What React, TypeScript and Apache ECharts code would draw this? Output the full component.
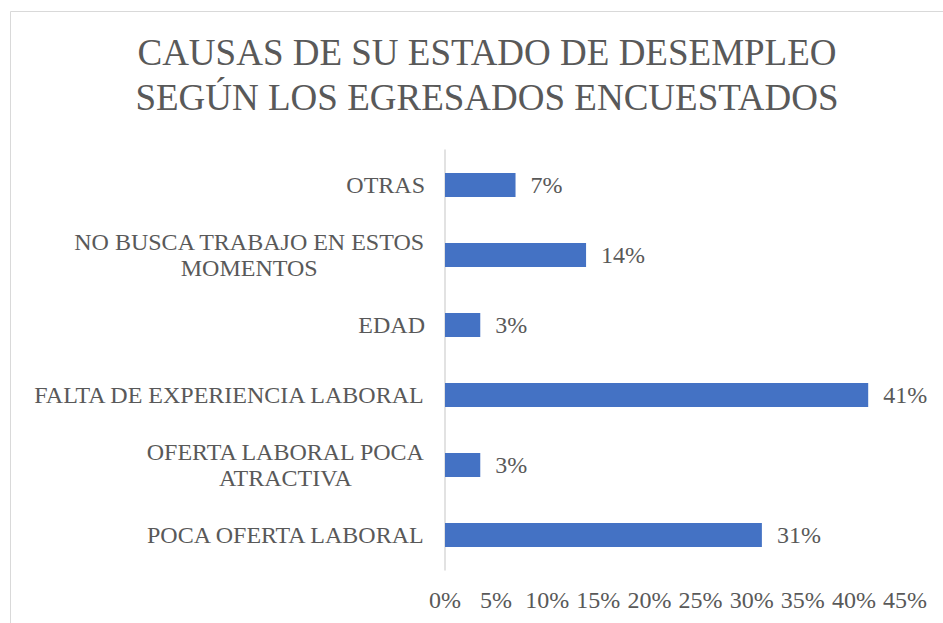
import React, { useEffect, useRef } from "react";
import * as echarts from "echarts";

const titleLines = ["CAUSAS DE SU ESTADO DE DESEMPLEO", "SEGÚN LOS EGRESADOS ENCUESTADOS"];
const categories = [
  "OTRAS",
  "NO BUSCA TRABAJO EN ESTOS\nMOMENTOS",
  "EDAD",
  "FALTA DE EXPERIENCIA LABORAL",
  "OFERTA LABORAL POCA\nATRACTIVA",
  "POCA OFERTA LABORAL",
];
const values = [6.9, 13.8, 3.45, 41.4, 3.45, 31.0];
const valueLabels = ["7%", "14%", "3%", "41%", "3%", "31%"];
const xTicks = [0, 5, 10, 15, 20, 25, 30, 35, 40, 45];

const FONT = "Liberation Serif";
const TEXT = "#595959";

export default function App() {
  const ref = useRef<HTMLDivElement>(null);
  useEffect(() => {
    if (!ref.current) return;
    const chart = echarts.init(ref.current, undefined, { renderer: "svg" });
    chart.setOption({
      animation: false,
      backgroundColor: "#ffffff",
      textStyle: { fontFamily: FONT },
      title: {
        text: titleLines.join("\n"),
        left: 482,
        top: 25,
        textAlign: "center",
        textStyle: {
          fontFamily: FONT,
          fontSize: 37,
          fontWeight: "normal",
          color: TEXT,
          lineHeight: 45,
        },
      },
      graphic: [
        {
          type: "rect",
          shape: { x: 10.5, y: 11.5, width: 1000, height: 1000 },
          style: { fill: "none", stroke: "#D9D9D9", lineWidth: 1 },
          silent: true,
        },
      ],
      grid: { left: 445, right: 38, top: 150, bottom: 53, containLabel: false },
      xAxis: {
        type: "value",
        min: xTicks[0],
        max: xTicks[xTicks.length - 1],
        interval: 5,
        axisLine: { show: false },
        axisTick: { show: false },
        splitLine: { show: false },
        axisLabel: {
          formatter: "{value}%",
          color: TEXT,
          fontFamily: FONT,
          fontSize: 24,
          margin: 18,
        },
      },
      yAxis: {
        type: "category",
        inverse: true,
        data: categories,
        axisLine: { show: true, lineStyle: { color: "#D9D9D9", width: 1.5 } },
        axisTick: { show: false },
        axisLabel: {
          margin: 20,
          align: "right",
          color: TEXT,
          fontFamily: FONT,
          fontSize: 24,
          lineHeight: 26,
          formatter: (v: string) =>
            v
              .split("\n")
              .map((l) => `{c|${l}}`)
              .join("\n"),
          rich: {
            c: {
              align: "center",
              color: TEXT,
              fontFamily: FONT,
              fontSize: 24,
              lineHeight: 26,
            },
          },
        },
      },
      series: [
        {
          type: "bar",
          data: values,
          barWidth: 24,
          itemStyle: { color: "#4472C4" },
          label: {
            show: true,
            position: "right",
            distance: 15,
            color: TEXT,
            fontFamily: FONT,
            fontSize: 24,
            formatter: (p: any) => valueLabels[p.dataIndex],
          },
        },
      ],
    });
    return () => chart.dispose();
  }, []);
  return (
    <div
      ref={ref}
      style={{ position: "absolute", left: 0, top: 0, width: 943, height: 623 }}
    />
  );
}
